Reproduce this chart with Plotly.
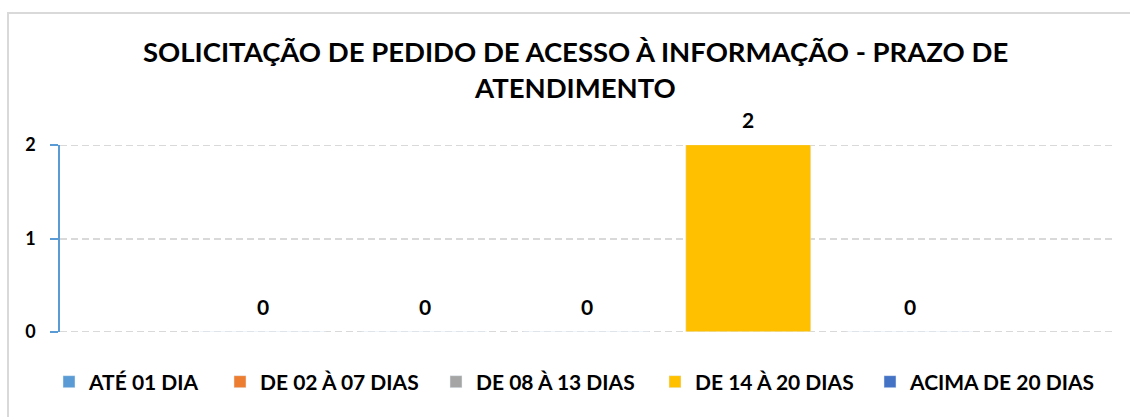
import plotly.graph_objects as go

categories = ["ATÉ 01 DIA", "DE 02 À 07 DIAS", "DE 08 À 13 DIAS", "DE 14 À 20 DIAS", "ACIMA DE 20 DIAS"]
values = [0, 0, 0, 2, 0]
colors = ["#5B9BD5", "#ED7D31", "#A5A5A5", "#FFC000", "#4472C4"]
title_lines = ["SOLICITAÇÃO DE PEDIDO DE ACESSO À INFORMAÇÃO - PRAZO DE", "ATENDIMENTO"]
tick_vals = [0, 1, 2]

FONT = "Lato"
W, H = 1130, 417
L, R, T, B = 60, 17, 145, 85
pw, ph = W - L - R, H - T - B


def px(x):
    return (x - L) / pw


def py(y):
    return (H - B - y) / ph


legend_text_x = [87, 258, 474, 693, 908]

fig = go.Figure()
layout_legends = {}
for i, (c, v, col) in enumerate(zip(categories, values, colors)):
    lname = "legend" if i == 0 else f"legend{i + 1}"
    fig.add_trace(go.Bar(
        x=[i], y=[v], name=c, marker_color=col, width=0.773,
        legend=lname, showlegend=True,
    ))
    layout_legends[lname] = dict(
        orientation="h", x=px(legend_text_x[i] - 38), xanchor="left",
        y=py(382), yanchor="middle", bgcolor="rgba(0,0,0,0)",
        font=dict(family=FONT, size=21, color="#000000", weight="bold"),
        itemwidth=30,
    )
    fig.add_annotation(x=i, y=v, xref="x", yref="y", text=str(v), showarrow=False,
                       yshift=26, yanchor="middle", xanchor="center",
                       font=dict(family=FONT, size=21, color="#000000", weight="bold"))

fig.update_layout(
    width=W, height=H,
    margin=dict(l=L, r=R, t=T, b=B, autoexpand=False),
    paper_bgcolor="white", plot_bgcolor="white",
    showlegend=True,
    xaxis=dict(range=[-1.255, 5.255], showticklabels=False, showgrid=False,
               zeroline=False, showline=False, ticks="", fixedrange=True),
    yaxis=dict(range=[0, 2], tickvals=tick_vals, showgrid=True, griddash="7px,4px",
               gridcolor="#D9D9D9", gridwidth=2, zeroline=False,
               showline=True, linecolor="#5B9BD5", linewidth=1.5,
               ticks="outside", tickcolor="#5B9BD5", ticklen=8, tickwidth=1.5,
               ticklabelstandoff=11, fixedrange=True,
               tickfont=dict(family=FONT, size=18, color="#000000", weight="bold")),
    bargap=0,
    **layout_legends,
)

# gridlines at the axis ends (plotly hides them next to the axis line)
for gv in (tick_vals[0], tick_vals[-1]):
    fig.add_shape(type="line", xref="paper", yref="y", x0=0, x1=1, y0=gv, y1=gv,
                  layer="below", line=dict(color="#D9D9D9", width=2, dash="7px,4px"))

for line, yy in zip(title_lines, [51, 87]):
    fig.add_annotation(text=line, xref="paper", yref="paper", x=px(575), y=py(yy),
                       xanchor="center", yanchor="middle", showarrow=False,
                       font=dict(family=FONT, size=27.5, color="#000000", weight="bold"))

# chart frame
fig.add_shape(type="line", xref="paper", yref="paper", x0=px(8), x1=px(8), y0=py(12.5), y1=py(430),
              line=dict(color="#D9D9D9", width=2))
fig.add_shape(type="line", xref="paper", yref="paper", x0=px(7), x1=px(1140), y0=py(13), y1=py(13),
              line=dict(color="#D9D9D9", width=2))

fig.write_html("out.html", config={"displayModeBar": False},
               post_script="document.body.style.margin='0';document.body.style.overflow='hidden';")
